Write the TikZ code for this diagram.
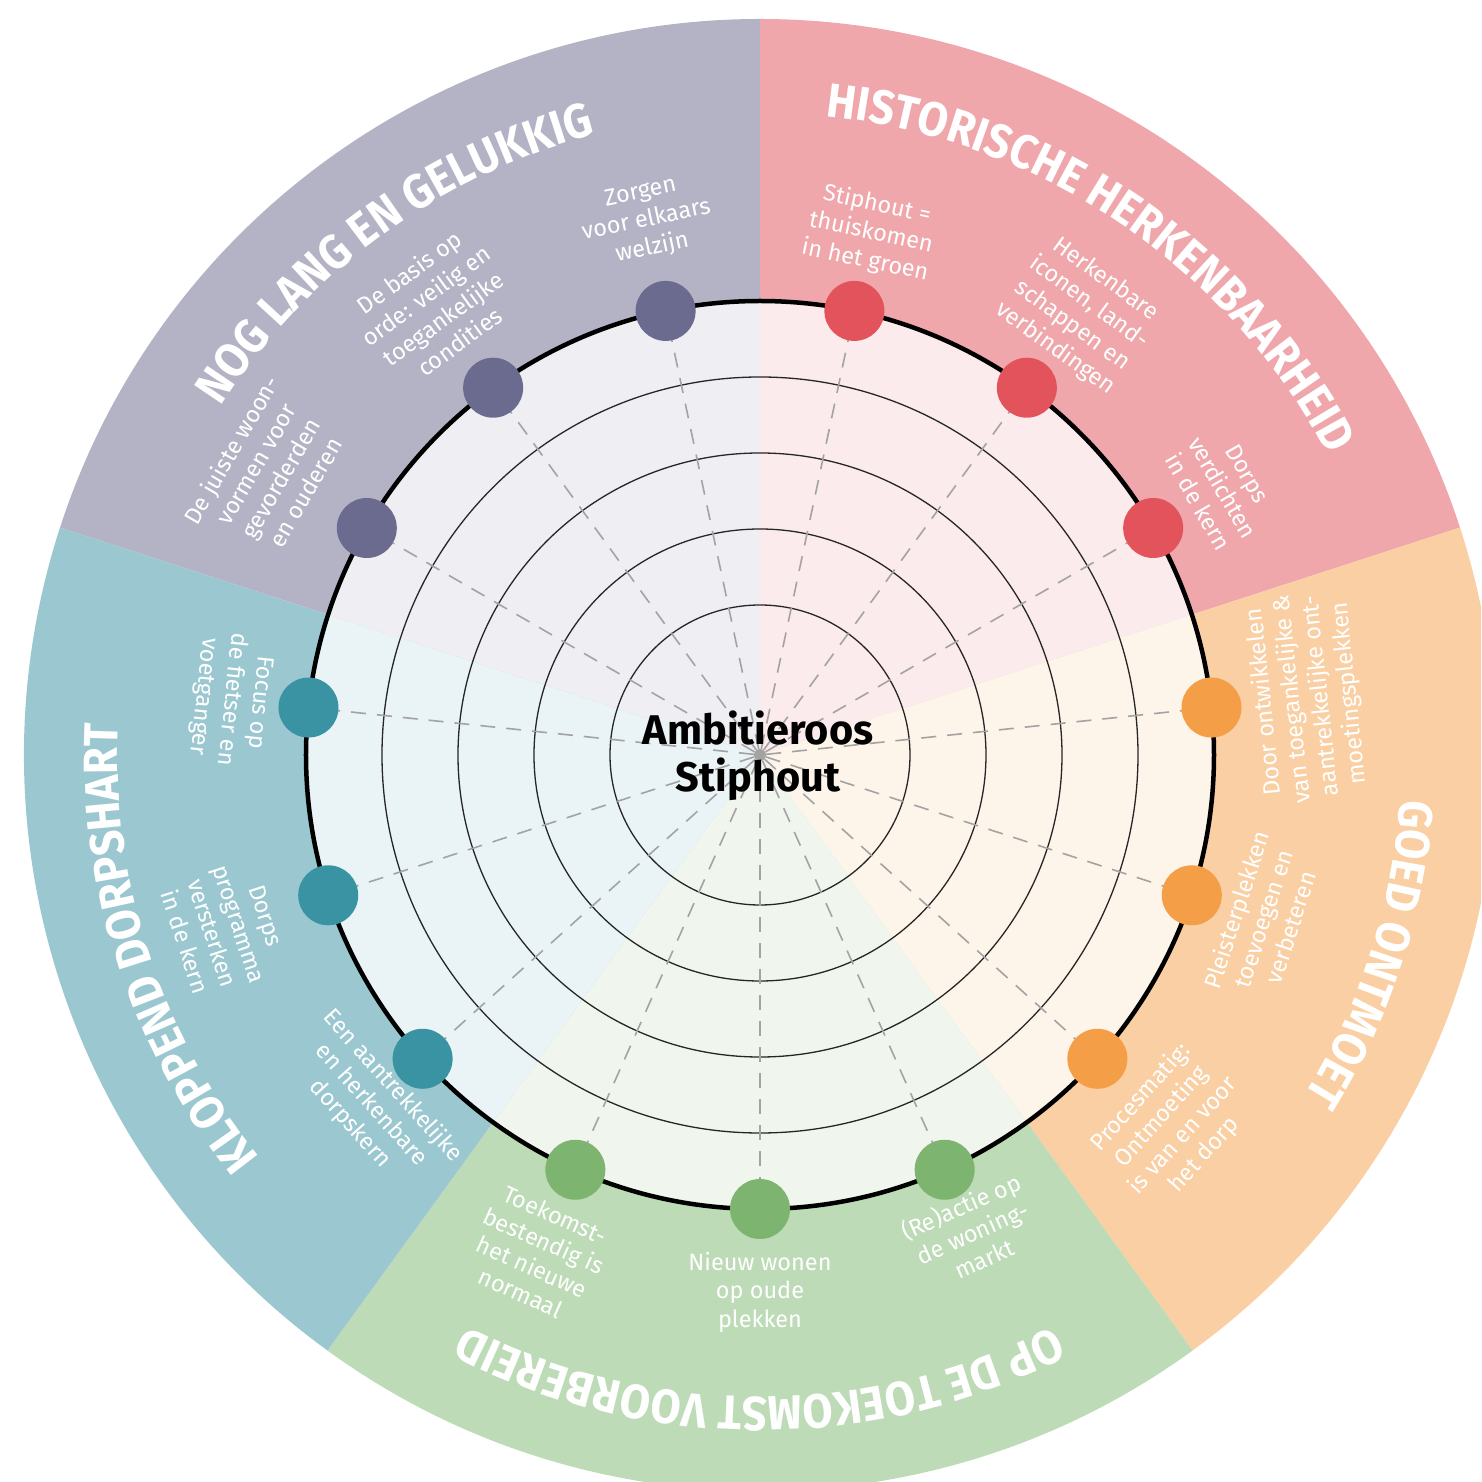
\documentclass[tikz,border=0pt]{standalone}
\usepackage{fontspec}
\setmainfont{Fira Sans}
\newfontfamily\titlefont{Fira Sans}[FakeStretch=0.91]
\usetikzlibrary{decorations.text}
\definecolor{pOut}{HTML}{B4B3C6}
\definecolor{pIn}{HTML}{EFEEF3}
\definecolor{pDot}{HTML}{6B6A8F}
\definecolor{rOut}{HTML}{EFA7AB}
\definecolor{rIn}{HTML}{FBEBEC}
\definecolor{rDot}{HTML}{E2535B}
\definecolor{oOut}{HTML}{F9CFA3}
\definecolor{oIn}{HTML}{FDF4EA}
\definecolor{oDot}{HTML}{F59E48}
\definecolor{gOut}{HTML}{BDDBB7}
\definecolor{gIn}{HTML}{F0F5EE}
\definecolor{gDot}{HTML}{7DB46F}
\definecolor{tOut}{HTML}{9BC8D0}
\definecolor{tIn}{HTML}{EAF3F6}
\definecolor{tDot}{HTML}{3A93A2}
\definecolor{spokegray}{HTML}{A3A3A3}
\begin{document}
\begin{tikzpicture}[x=1pt,y=1pt,
  thinring/.style={draw=black!85, line width=1.3pt},
  thickring/.style={draw=black, line width=4.5pt},
  spokeline/.style={draw=spokegray, dash pattern=on 15pt off 11pt, line width=1.6pt},
  dotnode/.style={circle, inner sep=0pt, minimum size=60pt},
  lbl/.style={text=white, align=center, font=\fontsize{23.5}{28.5}\selectfont, inner sep=0pt},
  ctitle/.style={font=\fontsize{41.5}{47}\selectfont\bfseries, text=black, anchor=base, inner sep=0pt},
  ttl/.style={decorate, decoration={text along path, text align=center, text color=white,
      text={|\titlefont\fontsize{48}{48}\selectfont\bfseries|#1}}},
]
\useasboundingbox (-760,-727) rectangle (721,755);
\clip (-760,-727) rectangle (721,755);
% outer ring sectors
\foreach \a/\o in {90/pOut, 18/rOut, -54/oOut, -126/gOut, 162/tOut}{
  \fill[\o] (0,0) -- (\a:736) arc[start angle=\a, end angle=\a+72, radius=736pt] -- cycle;
}
% inner light sectors
\foreach \a/\i in {90/pIn, 18/rIn, -54/oIn, -126/gIn, 162/tIn}{
  \fill[\i] (0,0) -- (\a:454) arc[start angle=\a, end angle=\a+72, radius=454pt] -- cycle;
}
% thin rings
\foreach \r in {150,226,302,378}{
  \draw[thinring] (0,0) circle[radius=\r pt];
}
% dot positions
\foreach \a in {102,126,150,78,54,30,6,-18,-42,-66,-90,-114,222,198,174}{
  \coordinate (p\a) at (\a:454);
}
\node[circle, fill=spokegray, minimum size=12pt, inner sep=0pt] (c) at (0,0) {};
\foreach \a in {102,126,150,78,54,30,6,-18,-42,-66,-90,-114,222,198,174}{
  \draw[spokeline] (c) -- (p\a);
}
\draw[thickring] (0,0) circle[radius=454pt];
% dots
\foreach \a/\col in {102/pDot,126/pDot,150/pDot,78/rDot,54/rDot,30/rDot,6/oDot,-18/oDot,-42/oDot,-66/gDot,-90/gDot,-114/gDot,222/tDot,198/tDot,174/tDot}{
  \node[dotnode, fill=\col] (d\a) at (p\a) {};
}
% labels
\node[lbl, rotate=12] (l102) at (102:546) {Zorgen\\voor elkaars\\welzijn};
\node[lbl, rotate=36] (l126) at (126:554) {De basis op\\orde: veilig en\\toegankelijke\\condities};
\node[lbl, rotate=60] (l150) at (150:568) {De juiste woon-\\vormen voor\\gevorderden\\en ouderen};
\node[lbl, rotate=-12] (l78) at (78:534) {Stiphout =\\thuiskomen\\in het groen};
\node[lbl, rotate=-36] (l54) at (54:545) {Herkenbare\\iconen, land-\\schappen en\\verbindingen};
\node[lbl, rotate=-60] (l30) at (30:534) {Dorps\\verdichten\\in de kern};
\node[lbl, rotate=96] (l6) at (6:550) {Door ontwikkelen\\van toegankelijke \&\\aantrekkelijke ont-\\moetingsplekken};
\node[lbl, rotate=72] (l-18) at (-18:529) {Pleisterplekken\\toevoegen en\\verbeteren};
\node[lbl, rotate=48] (l-42) at (-42:555) {Procesmatig:\\Ontmoeting\\is van en voor\\het dorp};
\node[lbl, rotate=24] (l-66) at (-66:522) {(Re)actie op\\de woning-\\markt};
\node[lbl, rotate=0] (l-90) at (-90:537) {Nieuw wonen\\op oude\\plekken};
\node[lbl, rotate=-24] (l-114) at (-114:546) {Toekomst-\\bestendig is\\het nieuwe\\normaal};
\node[lbl, rotate=312] (l222) at (222:523) {Een aantrekkelijke\\en herkenbare\\dorpskern};
\node[lbl, rotate=288] (l198) at (198:562) {Dorps\\programma\\versterken\\in de kern};
\node[lbl, rotate=264] (l174) at (174:532) {Focus op\\de fietser en\\voetganger};
% titles along arcs
\path[ttl={NOG LANG EN GELUKKIG}] (186:642) arc[start angle=186, end angle=66, radius=642pt];
\path[ttl={HISTORISCHE HERKENBAARHEID}] (116:642) arc[start angle=116, end angle=-4, radius=642pt];
\path[ttl={GOED ONTMOET}] (42:642) arc[start angle=42, end angle=-78, radius=642pt];
\path[ttl={OP DE TOEKOMST VOORBEREID}] (-30:642) arc[start angle=-30, end angle=-150, radius=642pt];
\path[ttl={KLOPPEND DORPSHART}] (258:642) arc[start angle=258, end angle=138, radius=642pt];
% center title
\node[ctitle] (t1) at (-2,10) {Ambitieroos};
\node[ctitle] (t2) at (-2,-37) {Stiphout};
\end{tikzpicture}
\end{document}
